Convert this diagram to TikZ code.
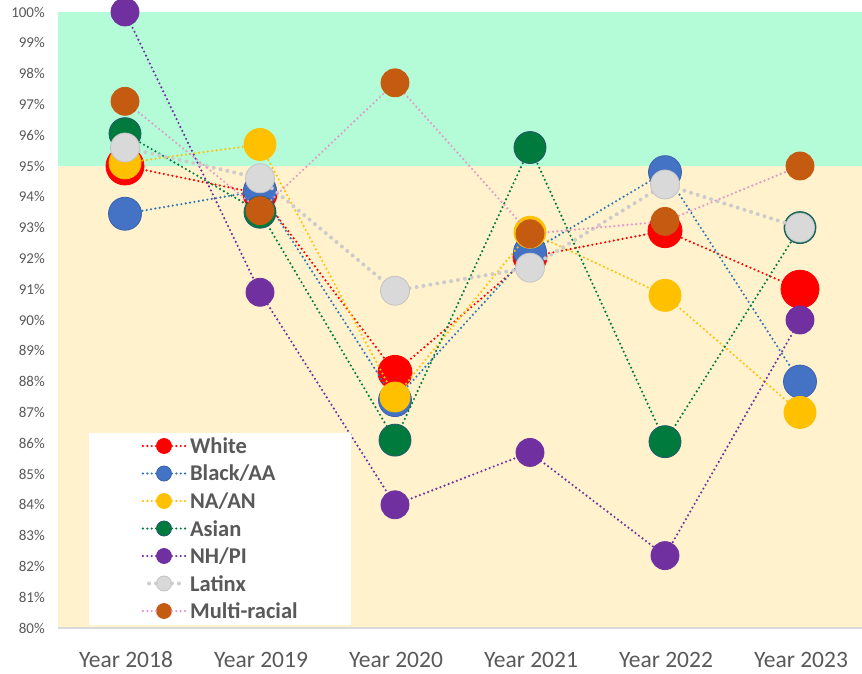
\documentclass[tikz,border=0pt]{standalone}
\usepackage{fontspec}
\setmainfont{Carlito}
\usetikzlibrary{positioning}

\definecolor{bandgreen}{RGB}{179,252,215}
\definecolor{bandbeige}{RGB}{255,242,204}
\definecolor{axisgray}{RGB}{217,217,217}
\definecolor{textgray}{RGB}{89,89,89}
\definecolor{cwhite}{RGB}{255,0,0}
\definecolor{cblack}{RGB}{68,114,196}
\definecolor{cblackedge}{RGB}{58,98,172}
\definecolor{cblackline}{RGB}{46,117,182}
\definecolor{cnaan}{RGB}{255,192,0}
\definecolor{casian}{RGB}{0,122,61}
\definecolor{casianedge}{RGB}{37,88,110}
\definecolor{cnhpi}{RGB}{112,48,160}
\definecolor{clatinx}{RGB}{217,217,217}
\definecolor{clatinxedge}{RGB}{195,195,195}
\definecolor{clatinxline}{RGB}{204,204,204}
\definecolor{cmulti}{RGB}{197,90,17}
\definecolor{cmultiline}{RGB}{228,150,200}

\tikzset{
  dotline/.style={line width=2.4pt, line cap=round, dash pattern=on 0pt off 4.4pt},
  fatdotline/.style={line width=4pt, line cap=round, dash pattern=on 0pt off 7pt},
  dot/.style={circle, inner sep=0pt, line width=0.8pt},
  legendmark/.style={dot, minimum size=15pt},
  ticklabel/.style={anchor=east, inner sep=0pt, text=textgray,
    font=\fontsize{15}{15}\selectfont},
  yearlabel/.style={inner sep=0pt, text=textgray,
    font=\fontsize{23.5}{23.5}\selectfont},
  legendtext/.style={inner sep=0pt, text=textgray,
    font=\bfseries\fontsize{22.5}{22.5}\selectfont},
}

% one series: name, line style, marker style, value/size pairs
\newcommand{\drawseries}[4]{%
  \foreach \v/\s [count=\i from 0] in {#4}
    \coordinate (#1-\i) at ({125+135*\i},{45+30.8*(\v-80)});
  \draw[#2] (#1-0) -- (#1-1) -- (#1-2) -- (#1-3) -- (#1-4) -- (#1-5);
  \foreach \v/\s [count=\i from 0] in {#4}
    \node[dot, #3, minimum size=\s pt] (#1-m\i) at (#1-\i) {};
}

\begin{document}
\begin{tikzpicture}[x=1pt, y=1pt, node distance=11.7pt]
  \useasboundingbox (0,0) rectangle (862,673);
  \fill[white] (0,0) rectangle (862,673);

  % bands and axis
  \fill[bandbeige] (58,45) rectangle (862,507);
  \fill[bandgreen] (58,507) rectangle (862,661);
  \draw[axisgray, line width=2pt] (58,45) -- (862,45);

  \foreach \p in {80,...,100}
    \node[ticklabel] (tick\p) at (45,{45+30.8*(\p-80)}) {\p\%};
  \foreach \y [count=\i from 0] in {2018,...,2023}
    \node[yearlabel] (year\y) at ({126+135*\i},13.5) {Year \y};

  % data
  \drawseries{white}{dotline, cwhite}{fill=cwhite, draw=cwhite}
    {95.0/38, 94.1/34, 88.3/34, 92.05/34, 92.9/34, 91.0/38}
  \drawseries{black}{dotline, cblackline}{fill=cblack, draw=cblackedge}
    {93.45/33, 94.2/33, 87.4/33, 92.2/33, 94.8/33, 88.0/33}
  \drawseries{naan}{dotline, cnaan}{fill=cnaan, draw=cnaan}
    {95.1/32, 95.7/32, 87.5/30, 92.85/32, 90.8/32, 87.0/32}
  \drawseries{asian}{dotline, casian}{fill=casian, draw=casianedge}
    {96.05/32, 93.5/32, 86.1/32, 95.6/32, 86.05/32, 93.0/32}
  \drawseries{nhpi}{dotline, cnhpi}{fill=cnhpi, draw=cnhpi}
    {100.0/28, 90.9/28, 84.0/28, 85.7/28, 82.35/28, 90.0/28}
  \drawseries{latinx}{fatdotline, clatinxline}{fill=clatinx, draw=clatinxedge}
    {95.6/29, 94.6/29, 90.95/29, 91.7/29, 94.4/29, 93.0/29}
  \drawseries{multi}{dotline, cmultiline}{fill=cmulti, draw=cmulti}
    {97.1/28, 93.55/28, 97.7/28, 92.8/28, 93.2/28, 95.0/28}

  % legend
  \fill[white] (89,48) rectangle (351,240);
  \node[legendmark, fill=cwhite, draw=cwhite] (lg-white) at (164,227) {};
  \node[legendmark, fill=cblack, draw=cblackedge] (lg-black) [below=of lg-white] {};
  \node[legendmark, fill=cnaan, draw=cnaan] (lg-naan) [below=of lg-black] {};
  \node[legendmark, fill=casian, draw=casianedge] (lg-asian) [below=of lg-naan] {};
  \node[legendmark, fill=cnhpi, draw=cnhpi] (lg-nhpi) [below=of lg-asian] {};
  \node[legendmark, fill=clatinx, draw=clatinxedge] (lg-latinx) [below=of lg-nhpi] {};
  \node[legendmark, fill=cmulti, draw=cmulti] (lg-multi) [below=of lg-latinx] {};

  \draw[dotline, cwhite] (lg-white.west) -- ++(-14,0) (lg-white.east) -- ++(14,0);
  \draw[dotline, cblackline] (lg-black.west) -- ++(-14,0) (lg-black.east) -- ++(14,0);
  \draw[dotline, cnaan] (lg-naan.west) -- ++(-14,0) (lg-naan.east) -- ++(14,0);
  \draw[dotline, casian] (lg-asian.west) -- ++(-14,0) (lg-asian.east) -- ++(14,0);
  \draw[dotline, cnhpi] (lg-nhpi.west) -- ++(-14,0) (lg-nhpi.east) -- ++(14,0);
  \draw[fatdotline, clatinxline] (lg-latinx.west) -- ++(-14,0) (lg-latinx.east) -- ++(14,0);
  \draw[dotline, cmultiline] (lg-multi.west) -- ++(-14,0) (lg-multi.east) -- ++(14,0);

  \node[legendtext, right=18pt of lg-white] (lt-white) {White};
  \node[legendtext, right=18pt of lg-black] (lt-black) {Black/AA};
  \node[legendtext, right=18pt of lg-naan] (lt-naan) {NA/AN};
  \node[legendtext, right=18pt of lg-asian] (lt-asian) {Asian};
  \node[legendtext, right=18pt of lg-nhpi] (lt-nhpi) {NH/PI};
  \node[legendtext, right=18pt of lg-latinx] (lt-latinx) {Latinx};
  \node[legendtext, right=18pt of lg-multi] (lt-multi) {Multi-racial};
\end{tikzpicture}
\end{document}
